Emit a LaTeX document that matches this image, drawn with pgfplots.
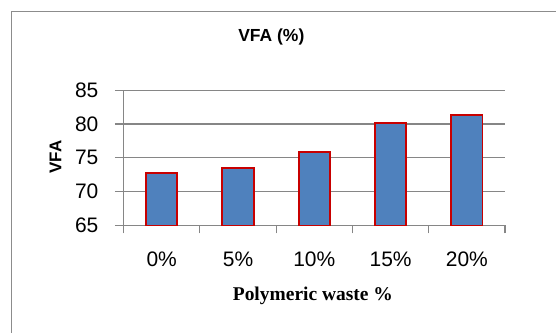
\documentclass[border=0pt]{standalone}
\usepackage{fontspec}
\setmainfont{Liberation Sans}
\newfontfamily\serifbold{Liberation Serif}
\usepackage{pgfplots}
\pgfplotsset{compat=1.18}
\definecolor{barblue}{RGB}{79,129,189}
\definecolor{barred}{RGB}{200,0,0}
\definecolor{gridgray}{RGB}{134,134,134}
\definecolor{framegray}{RGB}{140,140,140}
\begin{document}
\begin{tikzpicture}
% chart area and its frame (only the left and top edges fall on the page)
\path (0pt,0pt) rectangle (557pt,-333pt);
\draw[framegray, line width=1.4pt] (11.7pt,-333pt) -- (11.7pt,-11.7pt) -- (557pt,-11.7pt);
\begin{axis}[
  at={(123.7pt,-225.7pt)}, anchor=south west,
  scale only axis, width=382pt, height=135.4pt,
  xmin=-0.5, xmax=4.5, ymin=65, ymax=85,
  axis x line*=bottom, axis y line*=left,
  axis line style={gridgray, line width=1.2pt},
  xtick={0,1,2,3,4},
  xticklabels={0\%,5\%,10\%,15\%,20\%},
  minor xtick={-0.5,0.5,1.5,2.5,3.5,4.5},
  ytick={65,70,75,80,85},
  tick align=outside,
  major tick length=8.7pt, minor tick length=8pt,
  major x tick style={draw=none},
  minor x tick style={gridgray, line width=1.2pt},
  major y tick style={gridgray, line width=1.2pt},
  ymajorgrids,
  major grid style={gridgray, line width=1.2pt},
  /pgf/number format/assume math mode=true,
  tick label style={font=\fontsize{21}{21}\selectfont},
  xticklabel style={anchor=north, yshift=-14pt},
  yticklabel style={anchor=east, xshift=-13pt},
  title={\bfseries VFA (\%)},
  title style={at={(0.3874,1.349)}, anchor=center, font=\fontsize{17.5}{17.5}\selectfont},
  ylabel={\bfseries VFA},
  ylabel style={at={(-0.178,0.507)}, anchor=center, rotate=0, font=\fontsize{17}{17}\selectfont},
  xlabel={\serifbold\bfseries Polymeric waste \%},
  xlabel style={at={(0.4963,-0.519)}, anchor=center, font=\fontsize{19.5}{19.5}\selectfont},
]
\addplot[ybar, bar width=31.3pt, fill=barblue, draw=barred, line width=1.8pt, bar shift=0pt]
  coordinates {(0,72.7) (1,73.5) (2,75.9) (3,80.1) (4,81.35)};
\end{axis}
\end{tikzpicture}
\end{document}
